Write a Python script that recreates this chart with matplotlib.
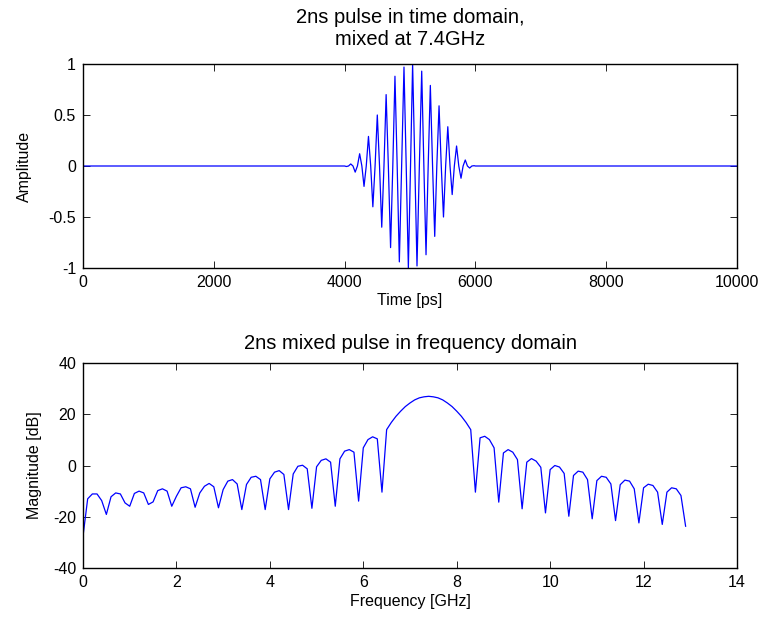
import matplotlib
matplotlib.use('Agg')
import matplotlib.pyplot as plt
import numpy as np

plt.rcParams['font.family'] = ['Liberation Sans', 'DejaVu Sans']
plt.rcParams['font.size'] = 11.5
plt.rcParams['axes.unicode_minus'] = False

# pulse in time domain: extrema and zero crossings (ps, amplitude)
pulse_t = [0, 4000, 4027, 4060, 4094, 4128, 4162, 4196, 4230, 4264, 4297, 4331,
           4365, 4399, 4432, 4466, 4500, 4534, 4568, 4602, 4635, 4669, 4703, 4737,
           4770, 4804, 4837, 4872, 4908, 4942, 4975, 5008, 5040, 5074, 5107, 5143,
           5179, 5212, 5245, 5278, 5311, 5345, 5378, 5410, 5444, 5478, 5512, 5545,
           5578, 5612, 5645, 5678, 5712, 5746, 5780, 5812, 5845, 5878, 5912, 5946,
           5980, 6000, 10000]
pulse_a = [0, 0, -0.005, 0, 0.02, 0, -0.06, 0, 0.12, 0, -0.20, 0,
           0.29, 0, -0.40, 0, 0.50, 0, -0.60, 0, 0.70, 0, -0.80, 0,
           0.88, 0, -0.94, 0, 0.97, 0, -1.0, 0, 1.0, 0, -0.98, 0,
           0.93, 0, -0.87, 0, 0.79, 0, -0.69, 0, 0.59, 0, -0.50, 0,
           0.385, 0, -0.28, 0, 0.196, 0, -0.12, 0, 0.059, 0, -0.02, 0,
           0.003, 0, 0]

# spectrum, one value per 0.1 GHz bin from 0 to 12.9 GHz
freq_ghz = np.arange(130) / 10.0
mag_db = [-27.6, -13.0, -11.1, -11.1, -13.7, -19.1, -12.2, -10.7, -11.1, -14.6,
          -15.9, -10.9, -10.0, -10.7, -15.2, -14.2, -9.8, -9.1, -10.0, -15.9,
          -12.0, -8.7, -8.3, -9.1, -16.3, -10.7, -8.1, -7.0, -8.3, -16.5,
          -9.4, -6.1, -5.5, -7.2, -17.2, -7.4, -4.6, -4.2, -5.5, -17.2,
          -5.2, -2.6, -2.0, -3.5, -17.2, -3.3, -0.3, 0.1, -1.3, -16.7,
          -0.5, 2.0, 2.6, 1.3, -15.9, 2.6, 5.6, 6.2, 5.2, -13.9,
          6.9, 10.1, 11.2, 10.4, -10.4, 14.0, 16.8, 19.2, 21.2, 23.0,
          24.4, 25.6, 26.4, 26.8, 27.0, 26.8, 26.4, 25.6, 24.4, 23.0,
          21.2, 19.2, 16.8, 14.0, -10.4, 10.8, 11.4, 10.1, 6.9, -14.3,
          4.9, 6.2, 5.2, 2.3, -16.9, 1.3, 2.7, 1.7, -0.7, -18.5,
          -1.6, 0.0, -0.6, -3.1, -19.8, -3.9, -2.2, -2.6, -5.5, -20.8,
          -5.9, -4.2, -4.6, -7.2, -21.5, -7.5, -5.7, -6.1, -9.1, -22.4,
          -8.7, -7.3, -7.8, -10.4, -23.0, -10.4, -8.7, -9.1, -11.7, -23.7]

fig = plt.figure(figsize=(7.68, 6.19), dpi=100)
ax1 = fig.add_axes([83/768, 1-268/619, 654/768, 204/619])
ax2 = fig.add_axes([83/768, 1-568/619, 654/768, 205/619])

ax1.plot(pulse_t, pulse_a, color='#0000ff', lw=0.9)
ax1.set_xlim(0, 10000)
ax1.set_ylim(-1, 1)
ax1.set_xticks(np.arange(0, 10001, 2000))
ax1.set_yticks([-1, -0.5, 0, 0.5, 1])
ax1.set_yticklabels(['-1', '-0.5', '0', '0.5', '1'])
ax1.set_xlabel('Time [ps]', labelpad=2)
ax1.set_ylabel('Amplitude', labelpad=12)
ax1.set_title('2ns pulse in time domain,\nmixed at 7.4GHz', fontsize=14.5, pad=14)

ax2.plot(freq_ghz, mag_db, color='#0000ff', lw=0.9)
ax2.set_xlim(0, 14)
ax2.set_ylim(-40, 40)
ax2.set_xticks(np.arange(0, 15, 2))
ax2.set_yticks(np.arange(-40, 41, 20))
ax2.set_xlabel('Frequency [GHz]', labelpad=3)
ax2.set_ylabel('Magnitude [dB]', labelpad=7.5)
ax2.set_title('2ns mixed pulse in frequency domain', fontsize=14.5, pad=10)

for ax in (ax1, ax2):
    ax.tick_params(direction='in', top=True, right=True, length=5, width=0.6,
                   labelsize=11.5, pad=5)
    for s in ax.spines.values():
        s.set_linewidth(1.0)

fig.savefig('out.png', dpi=100)
